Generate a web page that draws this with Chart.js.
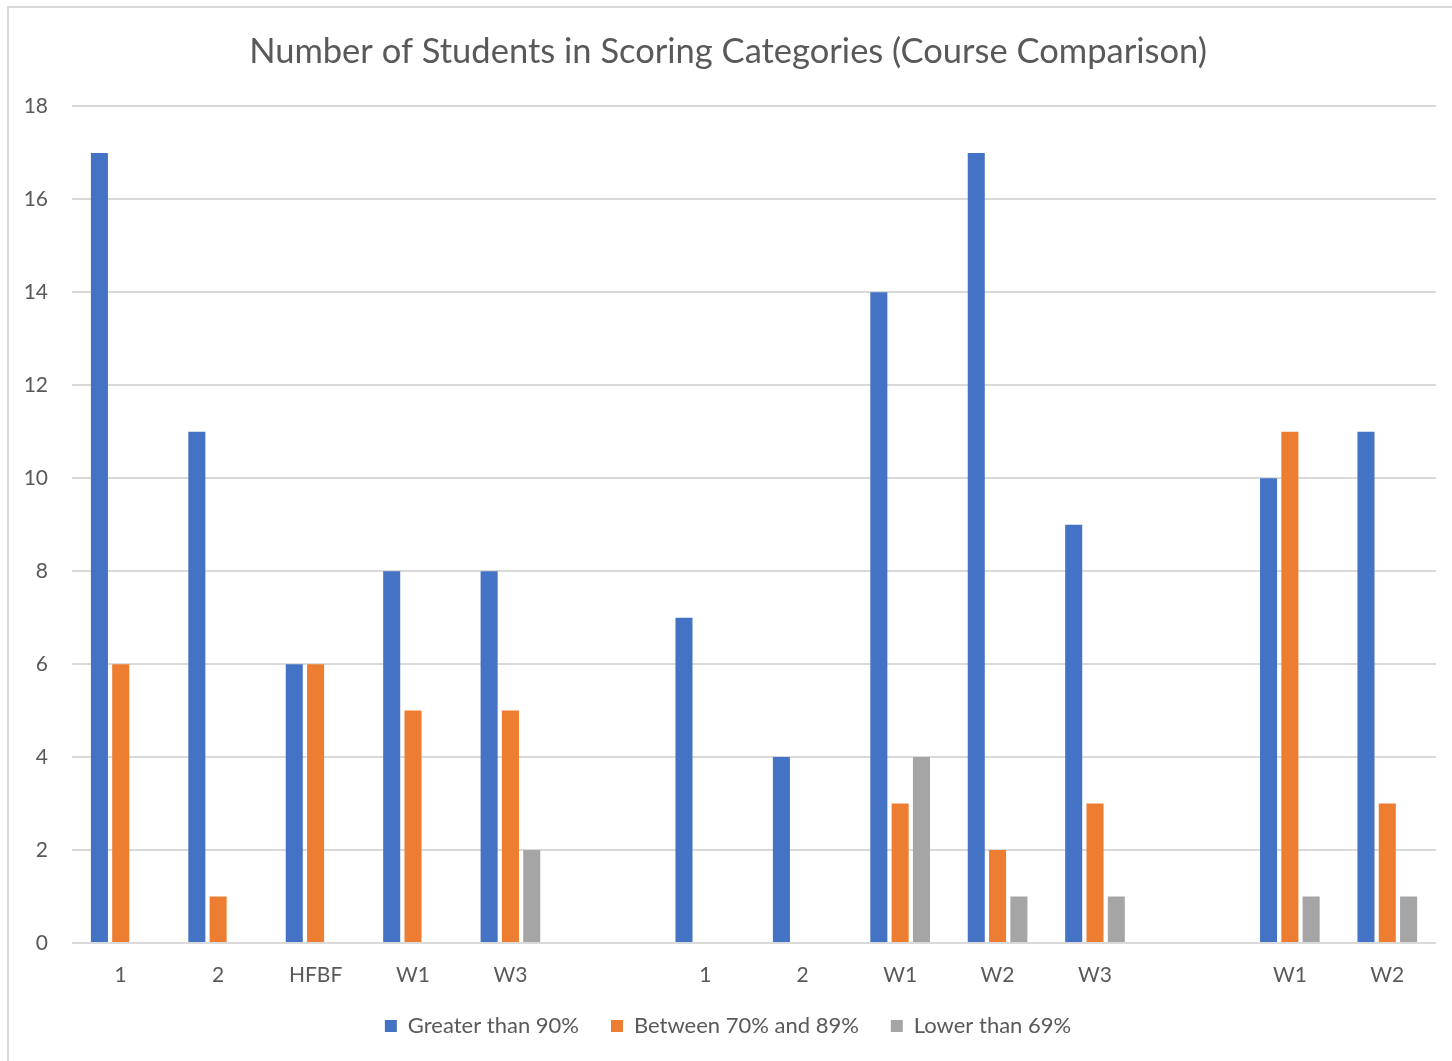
<!DOCTYPE html>
<html>
<head>
<meta charset="utf-8">
<script src="https://cdn.jsdelivr.net/npm/chart.js@4.4.1/dist/chart.umd.min.js"></script>
<style>
  html, body { margin: 0; padding: 0; background: #fff; overflow: hidden; }
  #frame { position: absolute; left: 7px; top: 6px; width: 1500px; height: 1100px; border: 2px solid #d9d9d9; }
  #chart { position: absolute; left: 0; top: 0; }
</style>
</head>
<body>
<div id="frame"></div>
<canvas id="chart" width="1452" height="1061"></canvas>
<script>
const categories = ['1', '2', 'HFBF', 'W1', 'W3', '', '1', '2', 'W1', 'W2', 'W3', '', 'W1', 'W2'];
const greaterThan90 = [17, 11, 6, 8, 8, null, 7, 4, 14, 17, 9, null, 10, 11];
const between70and89 = [6, 1, 6, 5, 5, null, 0, 0, 3, 2, 3, null, 11, 3];
const lowerThan69 = [0, 0, 0, 0, 2, null, 0, 0, 4, 1, 1, null, 1, 1];
const yMin = 0, yMax = 18, yStep = 2;

const textColor = '#595959';
const fontFamily = 'Lato, "Open Sans", sans-serif';

let ctx = document.getElementById('chart').getContext('2d');

// clustered columns, Excel style
let chart = new Chart(ctx, {
    type: 'bar',
    data: {
        labels: categories,
        datasets: [
            { label: 'Greater than 90%', data: greaterThan90, backgroundColor: '#4472C4' },
            { label: 'Between 70% and 89%', data: between70and89, backgroundColor: '#ED7D31' },
            { label: 'Lower than 69%', data: lowerThan69, backgroundColor: '#A5A5A5' }
        ]
    },
    options: {
        responsive: false,
        animation: false,
        categoryPercentage: 0.656,
        barPercentage: 0.8,
        layout: { padding: { top: 14, left: 20, right: 16, bottom: 14 } },
        scales: {
            x: {
                grid: { display: false, drawTicks: false },
                border: { display: false },
                ticks: { color: textColor, padding: 20, font: { family: fontFamily, size: 21 } },
                afterFit: function (scale) { scale.height = 40; }
            },
            y: {
                min: yMin,
                max: yMax,
                grid: { color: '#d9d9d9', lineWidth: 2, drawTicks: false },
                border: { display: false },
                ticks: { stepSize: yStep, color: textColor, padding: 24, font: { family: fontFamily, size: 21 } },
                afterFit: function (scale) { scale.width = 52; }
            }
        },
        plugins: {
            title: {
                display: true,
                text: 'Number of Students in Scoring Categories (Course Comparison)',
                color: textColor,
                font: { family: fontFamily, size: 34.5, weight: 'normal' },
                padding: { top: 17, bottom: 34 }
            },
            legend: {
                position: 'bottom',
                labels: {
                    color: textColor,
                    boxWidth: 12,
                    boxHeight: 12,
                    padding: 32,
                    font: { family: fontFamily, size: 22 }
                }
            },
            tooltip: { enabled: false }
        }
    }
});
</script>
</body>
</html>
